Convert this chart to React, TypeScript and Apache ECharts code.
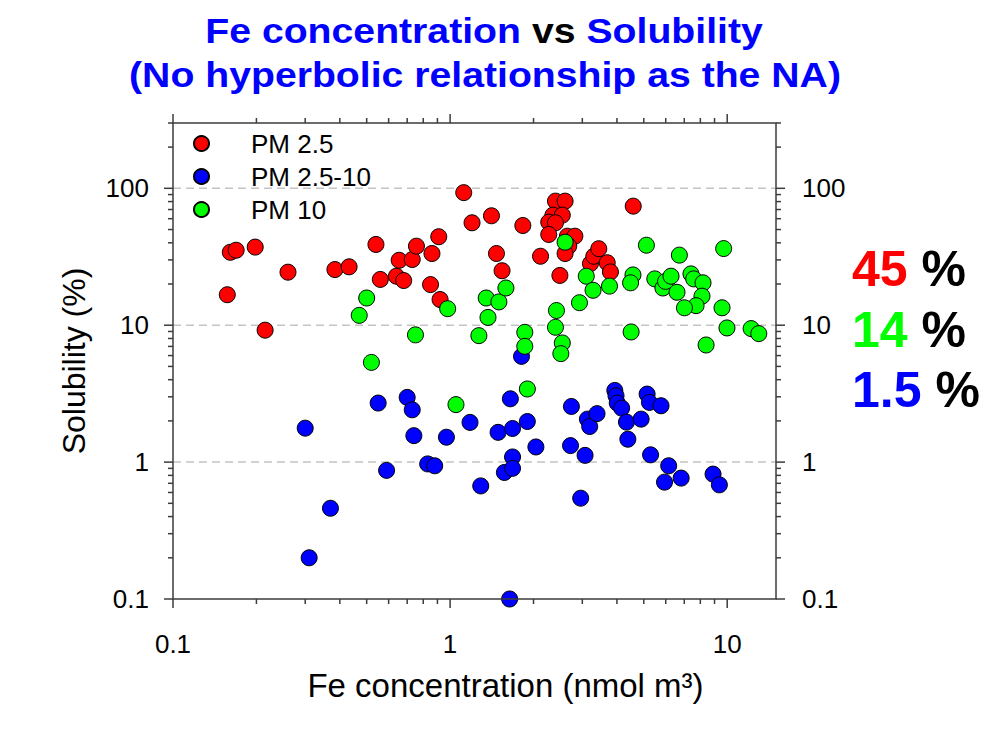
import React, { useEffect, useRef } from 'react';
import * as echarts from 'echarts';

// PM 2.5 (red): [Fe concentration nmol m3, solubility %]
const pm25: number[][] = [
  [0.157, 16.7], [0.161, 34.1], [0.169, 35.3], [0.198, 37.2], [0.215, 9.2], [0.26, 24.4],
  [0.384, 25.5], [0.432, 26.7], [0.54, 38.9], [0.56, 21.6], [0.64, 22.8], [0.655, 29.8],
  [0.68, 21.2], [0.73, 30.2], [0.756, 37.8], [0.85, 19.8], [0.86, 33.4], [0.91, 44.3],
  [0.92, 15.4], [1.12, 93], [1.2, 56], [1.41, 63], [1.47, 33.4], [1.54, 25], [1.83, 53.5],
  [2.12, 31.9], [2.49, 23.1], [2.4, 80.6], [2.6, 80.6], [2.35, 63.7], [2.54, 63.7],
  [2.27, 56.6], [2.4, 56], [2.27, 46], [2.65, 44.7], [2.82, 44.7], [2.68, 37.8], [2.6, 33.4],
  [3.21, 28.2], [3.3, 31.9], [3.44, 36.2], [3.69, 28.6], [3.79, 24.5], [4.58, 74.1],
];

// PM 2.5-10 (blue)
const pm2510: number[][] = [
  [0.3, 1.77], [0.31, 0.2], [0.37, 0.46], [0.55, 2.7], [0.59, 0.87], [0.7, 2.97], [0.73, 2.41],
  [0.74, 1.56], [0.83, 0.97], [0.88, 0.94], [0.97, 1.52], [1.18, 1.95], [1.29, 0.67],
  [1.49, 1.65], [1.57, 0.84], [1.65, 2.9], [1.68, 1.76], [1.68, 1.09], [1.68, 0.9],
  [1.81, 5.92], [1.9, 1.98], [2.04, 1.29], [1.64, 0.1], [2.74, 2.55], [2.72, 1.32],
  [3.07, 1.12], [2.96, 0.545], [3.13, 2.06], [3.19, 1.82], [3.39, 2.26], [3.93, 3.34],
  [3.97, 3.05], [4.01, 2.7], [4.16, 2.48], [4.33, 1.96], [4.38, 1.47], [4.89, 2.06],
  [5.14, 3.14], [5.24, 2.73], [5.77, 2.58], [5.29, 1.13], [6.15, 0.94], [5.94, 0.714],
  [6.82, 0.764], [8.89, 0.817], [9.37, 0.682],
];

// PM 10 (green)
const pm10: number[][] = [
  [0.5, 15.8], [0.47, 11.8], [0.75, 8.5], [0.98, 13.2], [0.52, 5.35], [2.6, 40.4],
  [1.35, 15.8], [1.5, 14.8], [1.59, 18.7], [1.37, 11.4], [1.27, 8.39], [1.86, 8.87],
  [1.86, 7.01], [2.42, 12.8], [2.4, 9.66], [2.54, 7.42], [2.51, 6.2], [2.93, 14.6],
  [3.1, 22.8], [3.28, 18.0], [3.76, 19.3], [4.57, 23.3], [4.48, 20.4], [4.5, 8.93],
  [5.11, 38.4], [5.48, 21.8], [5.86, 18.7], [5.99, 20.9], [6.27, 22.8], [6.59, 17.4],
  [6.72, 32.5], [7.4, 23.7], [7.57, 21.8], [8.18, 20.4], [8.11, 16.3], [7.72, 13.9],
  [7.01, 13.4], [9.71, 36.3], [9.58, 13.4], [9.98, 9.55], [8.39, 7.17], [12.2, 9.45],
  [13.0, 8.68], [1.9, 3.42], [1.05, 2.63],
];

const seriesNames = ['PM 2.5', 'PM 2.5-10', 'PM 10'];
const seriesColors = ['#ff0000', '#0000ff', '#00ff00'];

const xMajorTicks = [0.1, 1, 10];
const xMinorTicks = [0.2, 0.3, 0.4, 0.5, 0.6, 0.7, 0.8, 0.9, 2, 3, 4, 5, 6, 7, 8, 9];
const yMajorTicks = [0.1, 1, 10, 100];
const yMinorTicks = [
  0.2, 0.3, 0.4, 0.5, 0.6, 0.7, 0.8, 0.9, 2, 3, 4, 5, 6, 7, 8, 9,
  20, 30, 40, 50, 60, 70, 80, 90, 200, 300,
];
const gridLineValues = [1, 10, 100];

const X_MIN = 0.1;
const X_MAX = 15;
const Y_MIN = 0.1;
const Y_MAX = 300;

const averages = [
  { value: '45', color: '#ff0000' },
  { value: '14', color: '#00ff00' },
  { value: '1.5', color: '#0000ff' },
];

const FONT = '"Liberation Sans", Arial, Helvetica, sans-serif';
const AXIS_COLOR = '#3c3c3c';

const decadeLabel = (v: number) => {
  const l = Math.log10(v);
  const r = Math.round(l);
  if (Math.abs(l - r) > 1e-6) return '';
  return r < 0 ? Math.pow(10, r).toFixed(-r) : String(Math.pow(10, r));
};

function tickSeries(values: number[], len: number, axis: 'x' | 'y') {
  return {
    type: 'custom',
    name: 'ticks-' + axis + len,
    silent: true,
    clip: false,
    z: 4,
    data: axis === 'x' ? values.map((v) => [v, Y_MIN]) : values.map((v) => [X_MIN, v]),
    renderItem: (_params: any, api: any) => {
      const style = { stroke: AXIS_COLOR, lineWidth: 1.5 };
      if (axis === 'x') {
        const v = api.value(0);
        const b = api.coord([v, Y_MIN]);
        const t = api.coord([v, Y_MAX]);
        return {
          type: 'group',
          children: [
            { type: 'line', shape: { x1: b[0], y1: b[1], x2: b[0], y2: b[1] + len }, style },
            { type: 'line', shape: { x1: t[0], y1: t[1], x2: t[0], y2: t[1] - len }, style },
          ],
        };
      }
      const v = api.value(1);
      const l = api.coord([X_MIN, v]);
      const r = api.coord([X_MAX, v]);
      return {
        type: 'group',
        children: [
          { type: 'line', shape: { x1: l[0], y1: l[1], x2: l[0] - len, y2: l[1] }, style },
          { type: 'line', shape: { x1: r[0], y1: r[1], x2: r[0] + len, y2: r[1] }, style },
        ],
      };
    },
  };
}

// dashed horizontal reference lines at each decade inside the plot
const gridLineSeries = {
  type: 'custom',
  name: 'gridlines',
  silent: true,
  clip: false,
  z: 1,
  data: gridLineValues.map((v) => [X_MIN, v]),
  renderItem: (_params: any, api: any) => {
    const v = api.value(1);
    const l = api.coord([X_MIN, v]);
    const r = api.coord([X_MAX, v]);
    return {
      type: 'line',
      shape: { x1: l[0], y1: l[1], x2: r[0], y2: r[1] },
      style: { stroke: '#c4c4c4', lineWidth: 1.5, lineDash: [8, 5] },
    };
  },
};

// plot frame
const frameSeries = {
  type: 'custom',
  name: 'frame',
  silent: true,
  clip: false,
  z: 4,
  data: [[X_MIN, Y_MIN]],
  renderItem: (_params: any, api: any) => {
    const tl = api.coord([X_MIN, Y_MAX]);
    const br = api.coord([X_MAX, Y_MIN]);
    return {
      type: 'rect',
      shape: { x: tl[0], y: tl[1], width: br[0] - tl[0], height: br[1] - tl[1] },
      style: { fill: 'none', stroke: AXIS_COLOR, lineWidth: 1.5 },
    };
  },
};

export default function App() {
  const ref = useRef<HTMLDivElement>(null);

  useEffect(() => {
    if (!ref.current) return;
    const chart = echarts.init(ref.current, null, { renderer: 'svg' });

    const scatter = [pm25, pm2510, pm10].map((d, i) => ({
      type: 'scatter',
      name: seriesNames[i],
      data: d,
      symbol: 'circle',
      symbolSize: 16,
      clip: false,
      z: 3,
      itemStyle: { color: seriesColors[i], borderColor: '#000', borderWidth: 1, opacity: 1 },
    }));

    const axisLabel = (margin: number) => ({
      formatter: decadeLabel,
      fontSize: 26,
      fontFamily: FONT,
      color: '#000',
      margin,
      showMinLabel: true,
      showMaxLabel: true,
    });

    const option: any = {
      animation: false,
      backgroundColor: '#ffffff',
      textStyle: { fontFamily: FONT },
      grid: { left: 173, right: 207, top: 123, bottom: 134, show: false },
      legend: {
        orient: 'vertical',
        left: 193,
        top: 127,
        padding: 0,
        itemGap: 0,
        itemWidth: 15,
        itemHeight: 15,
        icon: 'circle',
        data: seriesNames,
        textStyle: {
          fontSize: 26,
          fontFamily: FONT,
          color: '#000',
          lineHeight: 33,
          padding: [0, 0, 0, 37],
        },
      },
      xAxis: {
        type: 'log',
        logBase: 10,
        min: X_MIN,
        max: X_MAX,
        name: 'Fe concentration (nmol m³)',
        nameLocation: 'middle',
        nameGap: 70,
        nameTextStyle: { fontSize: 33, fontFamily: FONT, color: '#000', padding: [0, 0, 0, 62] },
        axisLine: { show: false },
        axisTick: { show: false },
        splitLine: { show: false },
        axisLabel: axisLabel(32),
      },
      yAxis: [
        {
          type: 'log',
          logBase: 10,
          min: Y_MIN,
          max: Y_MAX,
          position: 'left',
          name: 'Solubility (%)',
          nameLocation: 'middle',
          nameRotate: 90,
          nameGap: 83,
          nameTextStyle: { fontSize: 32, fontFamily: FONT, color: '#000' },
          axisLine: { show: false },
          axisTick: { show: false },
          splitLine: { show: false },
          axisLabel: axisLabel(24),
        },
        {
          type: 'log',
          logBase: 10,
          min: Y_MIN,
          max: Y_MAX,
          position: 'right',
          axisLine: { show: false },
          axisTick: { show: false },
          splitLine: { show: false },
          axisLabel: axisLabel(26),
        },
      ],
      graphic: [
        {
          type: 'text',
          x: 484,
          y: 31,
          scaleX: 1.12,
          style: {
            text: '{b|Fe concentration }{k|vs}{b| Solubility}',
            align: 'center',
            verticalAlign: 'middle',
            fontSize: 35,
            fontWeight: 'bold',
            fontFamily: FONT,
            rich: {
              b: { fill: '#0000ff', fontSize: 35, fontWeight: 'bold', fontFamily: FONT },
              k: { fill: '#000000', fontSize: 35, fontWeight: 'bold', fontFamily: FONT },
            },
          },
        },
        {
          type: 'text',
          x: 485,
          y: 75,
          scaleX: 1.12,
          style: {
            text: '(No hyperbolic relationship as the NA)',
            align: 'center',
            verticalAlign: 'middle',
            fill: '#0000ff',
            fontSize: 35,
            fontWeight: 'bold',
            fontFamily: FONT,
          },
        },
        ...averages.map((a, i) => ({
          type: 'text',
          x: 852,
          y: 269 + i * 60.5,
          style: {
            text: '{v|' + a.value + '} {k|%}',
            align: 'left',
            verticalAlign: 'middle',
            fontSize: 50,
            fontWeight: 'bold',
            fontFamily: FONT,
            fill: '#000',
            rich: {
              v: { fill: a.color, fontSize: 50, fontWeight: 'bold', fontFamily: FONT },
              k: { fill: '#000000', fontSize: 50, fontWeight: 'bold', fontFamily: FONT },
            },
          },
        })),
      ],
      series: [
        gridLineSeries,
        frameSeries,
        tickSeries(xMajorTicks, 9, 'x'),
        tickSeries(xMinorTicks, 5, 'x'),
        tickSeries(yMajorTicks, 9, 'y'),
        tickSeries(yMinorTicks, 5, 'y'),
        ...scatter,
      ],
    };

    chart.setOption(option);
    return () => chart.dispose();
  }, []);

  return (
    <div
      ref={ref}
      style={{ position: 'absolute', left: 0, top: 0, width: 983, height: 733, background: '#fff' }}
    />
  );
}
